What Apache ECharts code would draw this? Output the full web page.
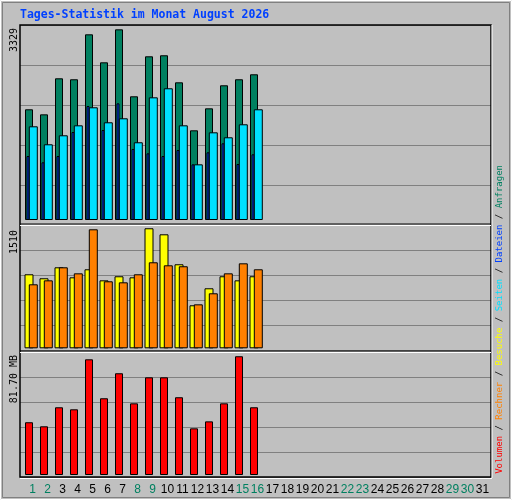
<!DOCTYPE html>
<html><head><meta charset="utf-8">
<script src="https://cdn.jsdelivr.net/npm/echarts@6/dist/echarts.min.js"></script>
<style>html,body{margin:0;padding:0;background:#C0C0C0}#c{width:512px;height:500px}</style>
</head><body><div id="c"></div>
<script>
const days = Array.from({length:31},(_,i)=>String(i+1));
const weekendDays = ['1','2','8','9','15','16','22','23','29','30'];
const anfragen = [1933,1845,2474,2457,3242,2753,3329,2160,2858,2876,2404,1566,1950,2352,2457,2544];
const dateien  = [1117,1007,1117,1536,1990,1571,2037,1240,1164,1117,1222,972,1182,1339,978,1147];
const seiten   = [1636,1322,1479,1653,1968,1706,1776,1357,2142,2300,1653,972,1531,1444,1671,1933];
const besuche  = [931,881,1019,893,994,855,906,893,1510,1434,1057,541,755,906,855,906];
const rechner  = [805,855,1019,943,1497,843,830,931,1082,1044,1032,553,692,943,1069,994];
const volumen  = [36.3,33.5,46.6,45.2,79.6,52.8,70.0,49.3,67.2,67.2,53.5,32.1,36.9,49.3,81.7,46.6];
const maxLabels = ['3329','1510','81.70 MB'];

const panels = [
  {top:25, height:200, min:-87.3, interval:698.4},
  {top:225, height:125, min:-21.4, interval:314.5},
  {top:352, height:125, min:-1.376, interval:17.2}
];
const grids=[], xAxes=[], yAxes=[], series=[];
function addGrid(p, left, width, showSplit, showLabels){
  const gi = grids.length;
  grids.push({left:left, top:p.top, width:width, height:p.height});
  xAxes.push({type:'category', gridIndex:gi, data:days, axisLine:{show:false}, axisTick:{show:false},
    axisLabel: showLabels ? {show:true, margin:7, fontFamily:'Liberation Sans', fontSize:12, interval:0,
      color:(v)=> weekendDays.includes(v)?'#008060':'#000'} : {show:false}});
  yAxes.push({type:'value', gridIndex:gi, min:p.min, max:+(p.min+5*p.interval).toFixed(3), interval:p.interval,
    axisLine:{show:false}, axisTick:{show:false}, axisLabel:{show:false},
    splitLine:{show:showSplit, lineStyle:{color:'#808080', width:1}}});
  return gi;
}
function addBar(gi, data, color, w){
  series.push({type:'bar', xAxisIndex:gi, yAxisIndex:gi, data:data, barWidth:w, animation:false,
    itemStyle:{color:color, borderColor:'#000', borderWidth:1}});
}
// frames (gridlines)
panels.forEach(p=>addGrid(p,20,471,true,false));
// top panel
addBar(addGrid(panels[0],21.5,465,false,false), anfragen, '#008060', 8);
addBar(addGrid(panels[0],20.5,465,false,false), dateien, '#0040FF', 3);
addBar(addGrid(panels[0],25.8,465,false,false), seiten, '#00E0FF', 9);
// middle
addBar(addGrid(panels[1],21.5,465,false,false), besuche, '#FFFF00', 9);
addBar(addGrid(panels[1],25.8,465,false,false), rechner, '#FF8000', 9);
// bottom
addBar(addGrid(panels[2],21.5,465,false,false), volumen, '#FF0000', 8);
addGrid(panels[2],25,465,false,true);

const mono='DejaVu Sans Mono';
const graphic=[
  {type:'rect', shape:{x:0.5,y:0.5,width:511,height:499}, style:{fill:null, stroke:'#FFFFFF', lineWidth:1}, z:-1},
  {type:'rect', shape:{x:2.5,y:2.5,width:507,height:495}, style:{fill:null, stroke:'#808080', lineWidth:1}, z:-1},
  {type:'text', x:20, y:9, style:{text:'Tages-Statistik im Monat August 2026', fill:'#0040FF', font:'bold 11.5px '+mono}},
  {type:'rect', shape:{x:20,y:25,width:471,height:452}, style:{fill:null, stroke:'#000', lineWidth:1.5}, z:100},
  {type:'line', shape:{x1:20,y1:224,x2:491,y2:224}, style:{stroke:'#000', lineWidth:1}, z:100},
  {type:'line', shape:{x1:20,y1:225.5,x2:491,y2:225.5}, style:{stroke:'#fff', lineWidth:1}, z:100},
  {type:'line', shape:{x1:20,y1:351,x2:491,y2:351}, style:{stroke:'#000', lineWidth:1}, z:100},
  {type:'line', shape:{x1:20,y1:352.5,x2:491,y2:352.5}, style:{stroke:'#fff', lineWidth:1}, z:100},
  {type:'line', shape:{x1:492,y1:25,x2:492,y2:478}, style:{stroke:'#fff', lineWidth:1}, z:100},
  {type:'line', shape:{x1:20,y1:478.5,x2:492,y2:478.5}, style:{stroke:'#fff', lineWidth:1}, z:100}
];
[28,230,355].forEach((y,i)=>graphic.push({type:'text', x:14, y:y, rotation:Math.PI/2,
  style:{text:maxLabels[i], fill:'#000', font:'10px '+mono, textAlign:'right', textVerticalAlign:'middle'}}));
graphic.push({type:'text', x:500, y:165, rotation:Math.PI/2,
  style:{text:'{r|Volumen} / {o|Rechner} / {y|Besuche} / {c|Seiten} / {b|Dateien} / {g|Anfragen}',
    fill:'#000', font:'9px '+mono, textAlign:'right', textVerticalAlign:'middle',
    rich:{r:{fill:'#FF0000',font:'9px '+mono}, o:{fill:'#FF8000',font:'9px '+mono}, y:{fill:'#FFFF00',font:'9px '+mono},
      c:{fill:'#00E0FF',font:'9px '+mono}, b:{fill:'#0040FF',font:'9px '+mono}, g:{fill:'#008060',font:'9px '+mono}}}});

const chart = echarts.init(document.getElementById('c'));
chart.setOption({backgroundColor:'#C0C0C0', animation:false, grid:grids, xAxis:xAxes, yAxis:yAxes, series:series, graphic:graphic});
</script></body></html>
